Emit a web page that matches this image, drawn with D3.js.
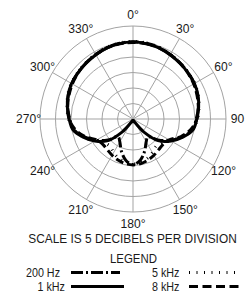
<!DOCTYPE html>
<html><head><meta charset="utf-8">
<script src="https://cdn.jsdelivr.net/npm/d3@7/dist/d3.min.js"></script>
<style>html,body{margin:0;padding:0;background:#fff;}svg{display:block;}text{font-family:"Liberation Sans",Arial,sans-serif;fill:#1a1a1a;}</style>
</head><body>
<script>
// Half-pattern angles (degrees); pattern mirrored for 180..360
const angles = [0,10,20,30,40,50,60,70,80,90,100,110,120,130,140,150,160,170,180];
// relative level in dB (0 = reference ring)
const hz200 = [-0.1,-0.2,-0.5,-1.0,-1.4,-1.8,-2.2,-2.8,-3.6,-4.6,-5.5,-8.2,-11.2,-14.5,-17.5,-16.5,-14.0,-11.5,-10.3];
const khz1  = [-0.2,-0.3,-0.6,-1.1,-1.5,-1.8,-2.1,-2.7,-3.5,-4.4,-5.3,-7.9,-10.8,-14.0,-19.5,-23.7,-24.5,-24.2,-24.1];
const khz5  = [0.0,-0.1,-0.4,-0.9,-1.3,-1.7,-2.0,-2.6,-3.4,-4.2,-5.5,-8.0,-11.0,-13.0,-13.5,-12.5,-11.5,-10.8,-10.5];
const khz8  = [-0.3,-0.4,-0.6,-1.0,-1.4,-1.9,-2.4,-3.0,-3.6,-4.4,-6.0,-8.5,-11.5,-12.3,-12.1,-11.5,-10.9,-10.4,-10.2];
const ringDb = [-20,-15,-10,-5,0,5];
const spokeAngles = [0,30,60,90,120,150,180,210,240,270,300,330];
const angleLabels = ["0°","30°","60°","90","120°","150°","180°","210°","240°","270°","300°","330°"];
const seriesNames = ["200 Hz","1 kHz","5 kHz","8 kHz"];
const scaleText = "SCALE IS 5 DECIBELS PER DIVISION";
const legendTitle = "LEGEND";

const W=246,H=295, cx=133, cy=119, R=93;
const svg=d3.select("body").append("svg").attr("width",W).attr("height",H);
const r=d3.scaleLinear().domain([-25,5]).range([0,R]);
const g=svg.append("g").attr("transform",`translate(${cx},${cy})`);
const grid="#a3a3a3";
g.selectAll("circle.ring").data(ringDb).join("circle").attr("class","ring")
 .attr("r",d=>r(d)).attr("fill","none").attr("stroke",grid).attr("stroke-width",1);
g.selectAll("line.spoke").data(spokeAngles).join("line").attr("class","spoke")
 .attr("x1",0).attr("y1",0)
 .attr("x2",d=>R*Math.sin(d*Math.PI/180)).attr("y2",d=>-R*Math.cos(d*Math.PI/180))
 .attr("stroke",grid).attr("stroke-width",1);

const LR=104.5;
g.selectAll("text.al").data(spokeAngles).join("text").attr("class","al")
 .attr("transform",d=>`translate(${LR*Math.sin(d*Math.PI/180)},${-LR*Math.cos(d*Math.PI/180)}) scale(0.93,1)`)
 .attr("text-anchor","middle").attr("dominant-baseline","central")
 .attr("font-size",13).text((d,i)=>angleLabels[i]);

function full(vals){
  const pts=angles.map((a,i)=>({a,db:vals[i]}));
  for(let i=angles.length-2;i>=1;i--) pts.push({a:360-angles[i],db:vals[i]});
  return pts;
}
const line=d3.lineRadial().angle(d=>d.a*Math.PI/180).radius(d=>r(d.db)).curve(d3.curveCatmullRomClosed);
const styles=[
 {data:hz200,dash:"10,3,2,3",w:3},
 {data:khz1,dash:null,w:3},
 {data:khz5,dash:"1,6",w:3},
 {data:khz8,dash:"8,4",w:3}
];
styles.forEach(s=>{
 g.append("path").attr("d",line(full(s.data))).attr("fill","none").attr("stroke","#000")
  .attr("stroke-width",s.w).attr("stroke-dasharray",s.dash);
});

svg.append("text").attr("transform","translate(132.5,243) scale(0.88,1)").attr("text-anchor","middle")
 .attr("font-size",13.5).text(scaleText);
svg.append("text").attr("transform","translate(133.5,262.5) scale(0.88,1)").attr("text-anchor","middle")
 .attr("font-size",13).text(legendTitle);
const leg=[
 {name:seriesNames[0],tx:60,anchor:"end",y:277,x1:71,x2:120,dash:"12,3,2,3"},
 {name:seriesNames[1],tx:65,anchor:"end",y:291,x1:71,x2:124,dash:null},
 {name:seriesNames[2],tx:152,anchor:"start",y:277,x1:189,x2:239,dash:"1,6.5"},
 {name:seriesNames[3],tx:152,anchor:"start",y:291,x1:189,x2:239,dash:"9,4.5"}
];
leg.forEach(l=>{
 svg.append("text").attr("transform",`translate(${l.tx},${l.y}) scale(0.86,1)`).attr("text-anchor",l.anchor)
  .attr("font-size",12.5).text(l.name);
 svg.append("line").attr("x1",l.x1).attr("x2",l.x2).attr("y1",l.y-4.5).attr("y2",l.y-4.5)
  .attr("stroke","#000").attr("stroke-width",3).attr("stroke-dasharray",l.dash);
});
</script>
</body></html>
